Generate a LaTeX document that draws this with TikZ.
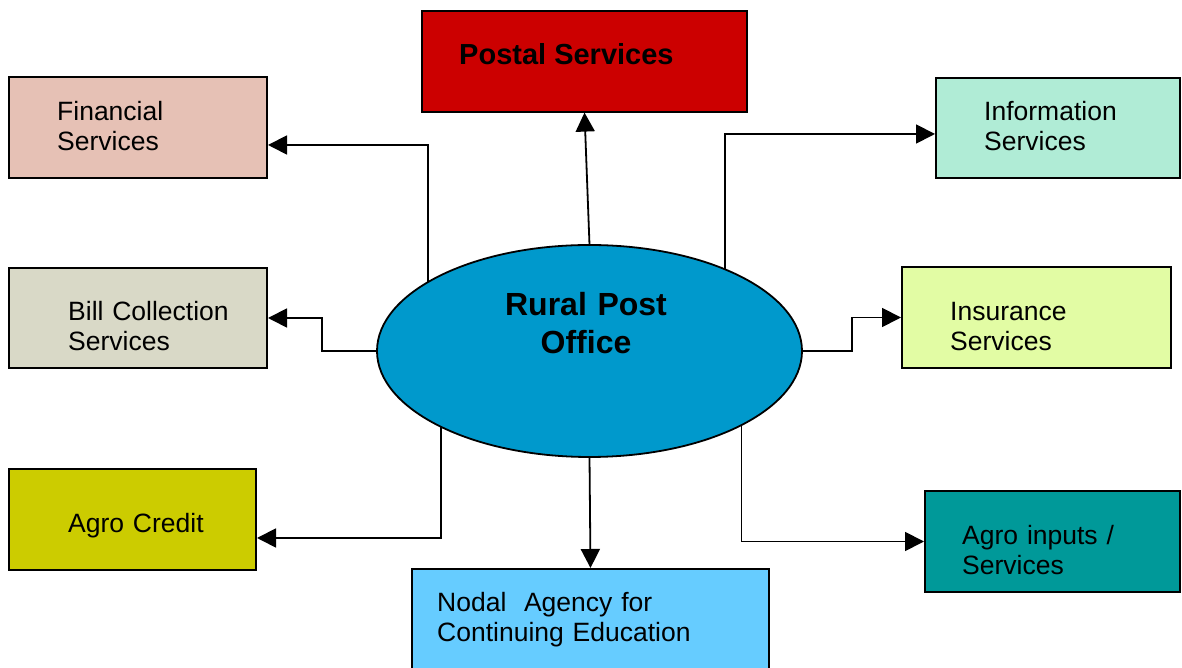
\documentclass[tikz,border=0pt]{standalone}
\usepackage{fontspec}
\setmainfont{Liberation Sans}
\usepackage{tikz}
\usetikzlibrary{arrows.meta}
\usetikzlibrary{shapes.geometric}
\definecolor{postalred}{HTML}{CC0000}
\definecolor{financial}{HTML}{E6C1B5}
\definecolor{information}{HTML}{B0ECD6}
\definecolor{billgrey}{HTML}{D9D9C7}
\definecolor{insurance}{HTML}{E2FCA4}
\definecolor{agroolive}{HTML}{CCCC00}
\definecolor{agroteal}{HTML}{009999}
\definecolor{nodalblue}{HTML}{66CCFF}
\definecolor{ruralblue}{HTML}{0099CC}
\tikzstyle{box} = [draw, rectangle, line width=2pt, inner sep=0pt]
\tikzstyle{office} = [draw, ellipse, line width=1.8pt, inner sep=0pt, outer sep=0pt, fill=ruralblue]
\tikzstyle{arrow} = [line width=1.8pt, -{Triangle[length=19pt, width=19pt]}]
\tikzstyle{boxtext} = [anchor=base west, inner sep=0pt, text width=300pt, align=left, font=\fontsize{26.5}{30}\selectfont]
\tikzstyle{heading} = [inner sep=0pt, font=\bfseries\fontsize{29}{34}\selectfont]

\begin{document}
\begin{tikzpicture}[x=1pt, y=1pt]
	\useasboundingbox (0,0) rectangle (1182,668);
	\node[box, line width=1.2pt, fill=postalred, minimum width=325pt, minimum height=101pt](post) at (584.5, 606.5){};
	\node[box, fill=financial, minimum width=258pt, minimum height=101pt](fin) at (138, 540.5){};
	\node[box, fill=information, minimum width=244pt, minimum height=100pt](info) at (1058, 540){};
	\node[box, fill=billgrey, minimum width=258pt, minimum height=100pt](bill) at (138, 350){};
	\node[box, fill=insurance, minimum width=269pt, minimum height=101pt](ins) at (1036.5, 350.5){};
	\node[box, fill=agroolive, minimum width=247pt, minimum height=101pt](agc) at (132.5, 148.5){};
	\node[box, fill=agroteal, minimum width=255pt, minimum height=101pt](agi) at (1052.5, 126.5){};
	\node[box, fill=nodalblue, minimum width=357pt, minimum height=101pt](nod) at (590.5, 48.5){};
	\node[office, minimum width=425pt, minimum height=212pt](rpo) at (589.5, 317){};

	\node[heading, anchor=base west](post-txt) at (459, 603){Postal Services};
	\node[boxtext](fin-txt) at (57, 547){Financial\\Services};
	\node[boxtext](info-txt) at (984, 547){Information\\Services};
	\node[boxtext](bill-txt) at (68, 347){Bill Collection\\Services};
	\node[boxtext](ins-txt) at (950, 347){Insurance\\Services};
	\node[boxtext](agc-txt) at (68, 135){Agro Credit};
	\node[boxtext](agi-txt) at (962, 123){Agro inputs /\\Services};
	\node[boxtext](nod-txt) at (437, 56){Nodal~ Agency for\\Continuing Education};
	\node[heading, anchor=base, text width=300pt, align=center, font=\bfseries\fontsize{32}{38}\selectfont](rpo-txt) at (586, 352){Rural Post\\Office};

	\draw[arrow](rpo.north) -- (post.south);
	\draw[arrow](rpo.157) |- ([yshift=-17.5pt]fin.east);
	\draw[arrow](rpo.31.4) |- ([yshift=-6pt]info.west);
	\draw[arrow](rpo.west) -- ++(-55, 0) |- (bill.east);
	\draw[arrow](rpo.east) -- ++(50, 0) |- (ins.west);
	\draw[arrow](rpo.207.35) |- ([yshift=-18.5pt]agc.east);
	\draw[arrow](rpo.334.2) |- (agi.west);
	\draw[arrow](rpo.south) -- (nod.north);
\end{tikzpicture}
\end{document}
